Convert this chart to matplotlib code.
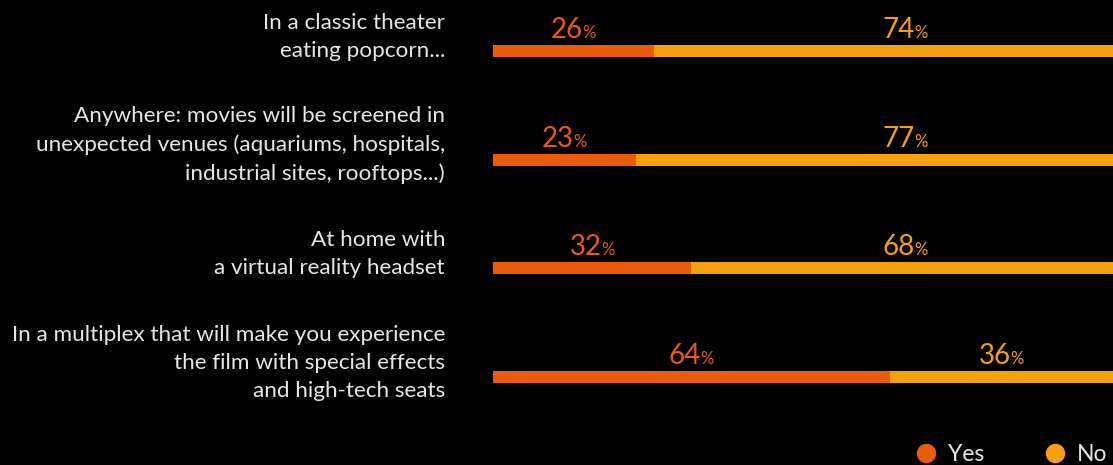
import matplotlib
matplotlib.use("Agg")
import matplotlib.pyplot as plt
from matplotlib.lines import Line2D
from matplotlib.transforms import blended_transform_factory

# survey answers, one row per viewing option
options = [
    "In a classic theater\neating popcorn...",
    "Anywhere: movies will be screened in\nunexpected venues (aquariums, hospitals,\nindustrial sites, rooftops...)",
    "At home with\na virtual reality headset",
    "In a multiplex that will make you experience\nthe film with special effects\nand high-tech seats",
]
yes_pct = [26, 23, 32, 64]
no_pct = [74, 77, 68, 36]

YES_COLOR = "#EA5B0C"
NO_COLOR = "#F5A00F"
TEXT_COLOR = "#E6E6E6"
FONT = ["Lato", "DejaVu Sans"]

fig = plt.figure(figsize=(11.13, 4.65), dpi=100, facecolor="black")
ax = fig.add_axes([493 / 1113, 0, 620 / 1113, 1])
ax.set_facecolor("black")

rows = list(range(len(options)))
bar_h = 0.108
ax.barh(rows, yes_pct, height=bar_h, color=YES_COLOR, lw=0)
ax.barh(rows, no_pct, left=yes_pct, height=bar_h, color=NO_COLOR, lw=0)

ax.set_xlim(0, 100)
ax.set_ylim(3.81, -0.469)
ax.axis("off")


def pct_label(x, y, value, color):
    # big number with a small percent sign after it, group centred on x
    ax.annotate(str(value), (x, y), xytext=(7, 0), textcoords="offset points",
                ha="right", va="baseline", color=color, fontsize=20,
                family=FONT)
    ax.annotate("%", (x, y), xytext=(6.3, 0), textcoords="offset points",
                ha="left", va="baseline", color=color, fontsize=12,
                family=FONT)


trans = blended_transform_factory(ax.transAxes, ax.transData)
for i, (label, y_v, n_v) in enumerate(zip(options, yes_pct, no_pct)):
    ax.text(-0.0774, i - 0.133, label, transform=trans, ha="right", va="center",
            multialignment="right", color=TEXT_COLOR, fontsize=16.2,
            family=FONT, linespacing=1.5)
    pct_label(y_v / 2, i - 0.12, y_v, YES_COLOR)
    pct_label(max(y_v + n_v / 2, 66.5), i - 0.12, n_v, NO_COLOR)

handles = [
    Line2D([], [], ls="", marker="o", markersize=13, color=YES_COLOR, label="Yes"),
    Line2D([], [], ls="", marker="o", markersize=13, color=NO_COLOR, label="No"),
]
leg = fig.legend(handles=handles, loc="lower left", bbox_to_anchor=(894 / 1113, -0.045),
                 ncol=2, frameon=False, handlelength=1.0, handletextpad=0.45,
                 columnspacing=2.6, prop={"family": FONT, "size": 16.5})
for t in leg.get_texts():
    t.set_color(TEXT_COLOR)

fig.savefig("out.png", dpi=100, facecolor="black")
